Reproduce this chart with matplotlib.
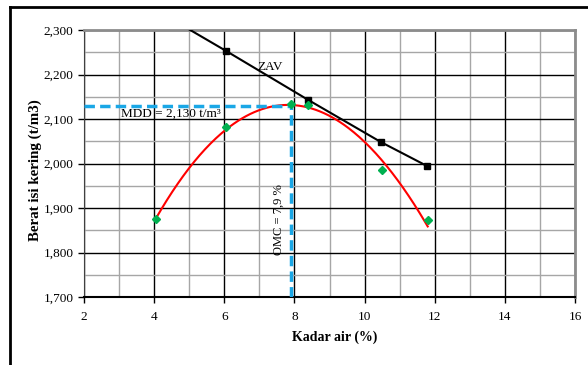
import numpy as np
import matplotlib
matplotlib.use("Agg")
import matplotlib.pyplot as plt
from matplotlib.lines import Line2D

# Data
kadar_air = [4.05, 6.05, 7.9, 8.4, 10.49, 11.8]
berat_isi = [1875, 2081, 2133, 2131, 1985, 1873]
# Trendline
trend_x = [4.05, 5.0, 6.0, 7.0, 7.9, 9.0, 10.0, 10.49, 11.0, 11.8]
trend_y = [1877, 1988, 2077, 2116, 2131, 2109, 2053, 2008, 1948, 1862]
zav_x = [4.05, 6.05, 8.39, 10.47, 11.79]
zav_y = [2345, 2253, 2143, 2048, 1994]
omc = 7.9
mdd = 2130
x_ticks = [2, 4, 6, 8, 10, 12, 14, 16]
y_ticks = [1700, 1800, 1900, 2000, 2100, 2200, 2300]
y_tick_labels = ["1,700", "1,800", "1,900", "2,000", "2,100", "2,200", "2,300"]

plt.rcParams['font.family'] = ['Liberation Serif', 'DejaVu Serif']

fig = plt.figure(figsize=(5.88, 3.65), dpi=100)
ax = fig.add_axes([84/588, 68/365, 491/588, 267/365])

ax.set_xlim(2, 16)
ax.set_ylim(1700, 2300)
ax.set_xticks(x_ticks)
ax.set_xticks(np.arange(2, 17, 1), minor=True)
ax.set_yticks(y_ticks)
ax.set_yticklabels(y_tick_labels)
ax.set_yticks(np.arange(1700, 2301, 50), minor=True)
ax.grid(which='minor', color='#A6A6A6', linewidth=1.0, zorder=0)
ax.grid(which='major', color='black', linewidth=1.0, zorder=0)
ax.set_axisbelow(True)
ax.tick_params(which='minor', length=0)
ax.tick_params(which='major', direction='out', length=4, width=1, labelsize=9.5, colors='black')
ax.tick_params(axis='x', pad=6)

for s in ['top', 'right']:
    ax.spines[s].set_color('#8C8C8C')
    ax.spines[s].set_linewidth(2)
ax.spines['left'].set_color('#404040')
ax.spines['bottom'].set_color('black')
ax.spines['bottom'].set_linewidth(1.5)

# Smooth trendline through the read curve points
coef = np.polyfit(trend_x, trend_y, 3)
xx = np.linspace(min(trend_x), max(trend_x), 200)
ax.plot(xx, np.polyval(coef, xx), color='#FF0000', linewidth=1.5, zorder=3)

# ZAV line
ax.plot(zav_x, zav_y, color='black', linewidth=1.5, marker='s', markersize=5, zorder=4)

# Blue dashed OMC / MDD lines
ax.plot([2, omc], [mdd, mdd], color='#1AA7E6', linewidth=2.5, linestyle=(0, (3, 1.5)), zorder=5)
ax.plot([omc, omc], [1700, mdd], color='#1AA7E6', linewidth=2.5, linestyle=(0, (3, 1.5)), zorder=5)

# Data points
ax.plot(kadar_air, berat_isi, linestyle='none', marker='D', markersize=4.5, color='#00B050', zorder=6)

ax.text(6.95, 2216, "ZAV", fontsize=9.5, va='center', ha='left', zorder=7)
ax.text(3.05, 2112, "MDD = 2,130 t/m\u00b3", fontsize=9.5, va='center', ha='left', zorder=7)
ax.text(7.56, 1875, "OMC = 7,9 %", fontsize=9, va='center', ha='center', rotation=90, zorder=7)

ax.set_xlabel("Kadar air (%)", fontsize=10, fontweight='bold')
ax.xaxis.set_label_coords(0.51, -0.125)
ax.set_ylabel("Berat isi kering (t/m3)", fontsize=10.8, fontweight='bold')
ax.yaxis.set_label_coords(-0.0855, 0.476)

# Outer figure border (partially visible)
fig.add_artist(Line2D([10/588, 1.0], [1 - 7/365, 1 - 7/365], color='black', linewidth=2, transform=fig.transFigure))
fig.add_artist(Line2D([10/588, 10/588], [0, 1 - 7/365], color='black', linewidth=2, transform=fig.transFigure))

fig.savefig("out.png", dpi=100)
